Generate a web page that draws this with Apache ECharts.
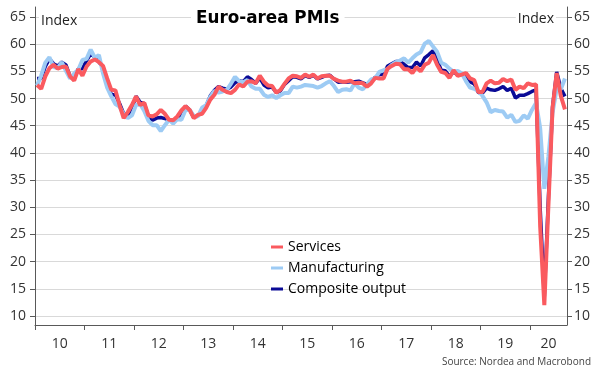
<!DOCTYPE html>
<html><head><meta charset="utf-8">
<script src="https://cdn.jsdelivr.net/npm/echarts@6/dist/echarts.min.js"></script>
<style>html,body{margin:0;padding:0;background:#fff}#c{width:602px;height:381px}</style>
</head><body><div id="c"></div>
<script>
// Monthly, Jan 2010 .. Sep 2020
const yearLabels = ['10','11','12','13','14','15','16','17','18','19','20'];
const yTicks = [10,15,20,25,30,35,40,45,50,55,60,65];
const services = [
 52.5,51.8,54.1,55.6,56.2,55.5,55.8,55.9,54.1,53.3,55.4,54.2,
 55.9,56.8,57.2,56.7,56.0,53.7,51.6,51.5,48.8,46.4,47.5,48.8,
 50.4,48.8,49.2,46.9,46.7,47.1,47.9,47.2,46.1,46.0,46.7,47.8,
 48.6,47.9,46.4,47.0,47.2,48.3,49.8,50.7,52.2,51.6,51.2,51.0,
 51.6,52.6,52.2,53.1,53.2,52.8,54.2,53.1,52.4,52.3,51.1,51.6,
 52.7,53.7,54.2,54.1,53.8,54.4,54.0,54.4,53.7,54.1,54.2,54.2,
 53.6,53.3,53.1,53.1,53.3,52.8,52.9,52.8,52.2,52.8,53.8,53.7,
 53.7,55.5,56.0,56.4,56.3,55.4,55.4,54.7,55.8,55.0,56.2,56.6,
 58.0,56.2,54.9,54.7,53.8,55.2,54.2,54.4,54.7,53.7,53.4,51.2,
 51.2,52.8,53.3,52.8,52.9,53.6,53.2,53.5,51.6,52.2,51.9,52.8,
 52.5,52.6,26.4,12.0,30.5,48.3,54.7,50.5,48.0
];
const manufacturing = [
 52.4,54.2,56.6,57.6,55.8,55.6,56.7,55.1,53.7,54.6,55.3,57.1,
 57.3,59.0,57.5,58.0,54.6,52.0,50.4,49.0,48.5,47.1,46.4,46.9,
 48.8,49.0,47.7,45.9,45.1,45.1,44.0,45.1,46.1,45.4,46.2,46.1,
 47.9,47.9,46.8,46.7,48.3,48.8,50.3,51.4,51.1,51.3,51.6,52.7,
 54.0,53.2,53.0,53.4,52.2,51.8,51.8,50.7,50.3,50.6,50.1,50.6,
 51.0,51.0,52.2,52.0,52.2,52.5,52.4,52.3,52.0,52.3,52.8,53.2,
 52.3,51.2,51.6,51.7,51.5,52.8,52.0,51.7,52.6,53.5,53.7,54.9,
 55.2,55.4,56.2,56.7,57.0,57.4,56.6,57.4,58.1,58.5,60.1,60.6,
 59.6,58.6,56.6,56.2,55.5,54.9,55.1,54.6,53.2,52.0,51.8,51.4,
 50.5,49.3,47.5,47.9,47.7,47.6,46.5,47.0,45.7,45.9,46.9,46.3,
 47.9,49.2,44.5,33.4,39.4,47.4,51.8,51.7,53.7
];
const composite = [
 53.7,53.7,55.9,57.3,56.4,56.0,56.7,56.2,54.1,53.8,55.5,55.5,
 57.0,58.2,57.6,56.7,55.8,53.3,50.7,50.7,49.1,47.2,47.0,48.3,
 50.4,49.3,49.1,46.7,46.0,46.4,46.5,46.3,46.1,45.7,46.5,47.2,
 48.6,47.9,46.5,46.9,47.7,48.7,50.5,51.5,52.2,51.9,51.7,52.1,
 52.9,53.3,53.1,54.0,53.5,52.8,53.8,52.5,52.0,52.1,51.1,51.4,
 52.6,53.3,54.0,53.9,53.6,54.2,53.9,54.3,53.6,53.9,54.2,54.3,
 53.6,53.0,53.1,53.0,53.1,53.1,53.2,52.9,52.6,53.3,53.9,54.4,
 54.4,56.0,56.4,56.8,56.8,56.3,55.7,55.7,56.7,56.0,57.5,58.1,
 58.8,57.1,55.2,55.1,54.1,54.9,54.3,54.5,54.1,53.1,52.7,51.1,
 51.0,51.9,51.6,51.5,51.8,52.2,51.5,51.9,50.1,50.6,50.6,50.9,
 51.3,51.6,29.7,13.6,31.9,48.5,54.9,51.9,50.4
];
const names = {services:'Services', manufacturing:'Manufacturing', composite:'Composite output'};

const toXY = arr => arr.map((v,i) => [i + 0.5, v]);
const yearTickPos = yearLabels.map((_,i) => i*12);
const totalMonths = 129;
const yearLabelPos = yearLabels.map((_,i) => Math.min(i*12 + 6, (i*12 + totalMonths)/2));
const labelMap = {};
yearLabelPos.forEach((p,i) => labelMap[p] = yearLabels[i]);

const font = '"Open Sans", "Noto Sans", sans-serif';
const axisCol = '#595959';
const yMin = 8.34, yMax = 66.84;

const mkY = (pos) => ({
  type:'value', position:pos, min:yMin, max:yMax,
  axisLine:{show:true, lineStyle:{color:axisCol, width:1}},
  axisTick:{show:true, length:5, lineStyle:{color:axisCol}, customValues:yTicks},
  axisLabel:{customValues:yTicks, color:'#333', fontSize:14, fontFamily:font, margin:pos==='left'?9:7},
  splitLine:{show:pos==='left', lineStyle:{color:'#d9d9d9', width:1}}
});

const chart = echarts.init(document.getElementById('c'), null, {renderer:'canvas'});
chart.setOption({
  animation:false,
  backgroundColor:'#fff',
  grid:{left:35, right:35, top:7, bottom:56, containLabel:false},
  title:{text:'Euro-area PMIs', left:191, top:7, padding:[3,5,3,5], backgroundColor:'#fff',
    textStyle:{fontFamily:'"DejaVu Sans", Verdana, sans-serif', fontWeight:'bold', fontSize:16.8, color:'#000'}},
  legend:{orient:'vertical', left:271, top:240, padding:0, itemWidth:12, itemHeight:3, itemGap:7, icon:'rect',
    textStyle:{fontFamily:font, fontSize:14, color:'#000'},
    data:[names.services, names.manufacturing, names.composite]},
  xAxis:{type:'value', min:0, max:totalMonths,
    axisLine:{show:true, onZero:false, lineStyle:{color:axisCol}},
    axisTick:{show:true, length:5, customValues:yearTickPos, lineStyle:{color:axisCol}},
    axisLabel:{customValues:yearLabelPos, formatter:v => labelMap[v] || '', color:'#333', fontSize:14, fontFamily:font, margin:12},
    splitLine:{show:false}},
  yAxis:[mkY('left'), mkY('right')],
  graphic:[
    {type:'text', left:39, top:13, z:10, style:{text:'Index', font:'14px "Open Sans", sans-serif', fill:'#222', backgroundColor:'#fff', padding:[1,2,1,2]}},
    {type:'text', right:46, top:11, z:10, style:{text:'Index', font:'14px "Open Sans", sans-serif', fill:'#222', backgroundColor:'#fff', padding:[1,2,1,2]}},
    {type:'text', right:11, top:357, style:{text:'Source: Nordea and Macrobond', font:'10px "Open Sans", sans-serif', fill:'#444'}}
  ],
  series:[
    {name:names.composite, type:'line', data:toXY(composite), showSymbol:false, yAxisIndex:0,
      lineStyle:{color:'#0A0A96', width:3.5}, itemStyle:{color:'#0A0A96'}},
    {name:names.manufacturing, type:'line', data:toXY(manufacturing), showSymbol:false, yAxisIndex:0,
      lineStyle:{color:'#9DCBF4', width:4}, itemStyle:{color:'#9DCBF4'}},
    {name:names.services, type:'line', data:toXY(services), showSymbol:false, yAxisIndex:0,
      lineStyle:{color:'#FA5A5F', width:4}, itemStyle:{color:'#FA5A5F'}}
  ]
});
</script></body></html>
